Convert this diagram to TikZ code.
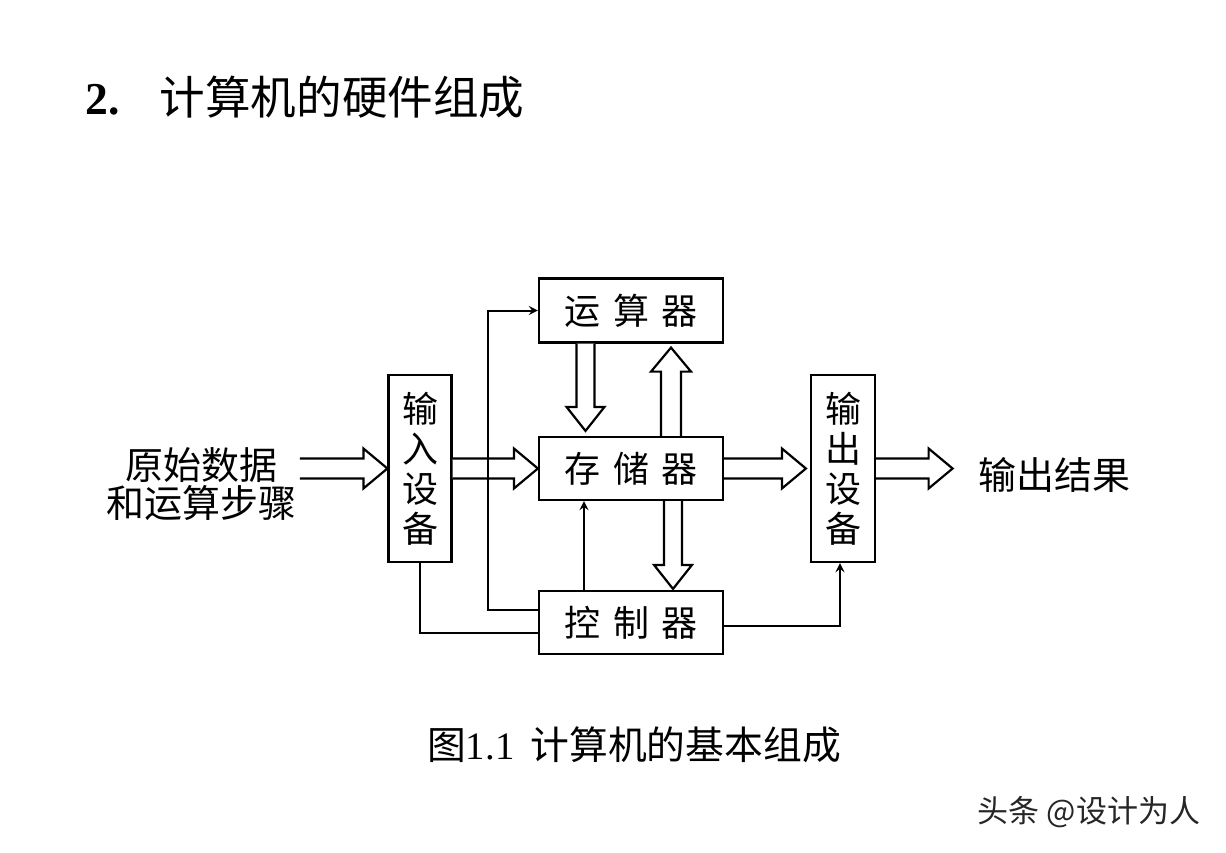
\documentclass[tikz,border=0pt]{standalone}
\usepackage{fontspec}
\setmainfont{Liberation Serif}
\newfontfamily\cjk{Noto Sans CJK SC}
\usetikzlibrary{calc,positioning}

% hollow wide arrows
\newcommand{\fatright}[2]{\draw[fat] let \p1=#1, \p2=#2 in
    (\x1,\y1+5pt) -- (\x2-12pt,\y1+5pt) -- (\x2-12pt,\y1+10pt) -- (\x2,\y1)
    -- (\x2-12pt,\y1-10pt) -- (\x2-12pt,\y1-5pt) -- (\x1,\y1-5pt);}
\newcommand{\fatdown}[2]{\draw[fat] let \p1=#1, \p2=#2 in
    (\x1-4.5pt,\y1) -- (\x1-4.5pt,\y2+12pt) -- (\x1-9.5pt,\y2+12pt) -- (\x1,\y2)
    -- (\x1+9.5pt,\y2+12pt) -- (\x1+4.5pt,\y2+12pt) -- (\x1+4.5pt,\y1);}
\newcommand{\fatup}[2]{\draw[fat] let \p1=#1, \p2=#2 in
    (\x1-5pt,\y1) -- (\x1-5pt,\y2-12pt) -- (\x1-10pt,\y2-12pt) -- (\x1,\y2)
    -- (\x1+10pt,\y2-12pt) -- (\x1+5pt,\y2-12pt) -- (\x1+5pt,\y1);}

\begin{document}
\begin{tikzpicture}
    [x=0.5pt, y=-0.5pt, >=stealth, on grid,
     unit/.style={draw, line width=1.1pt, inner sep=0pt, minimum width=92pt,
                  minimum height=31.5pt, font=\cjk\fontsize{18}{20}\selectfont},
     device/.style={unit, minimum width=31.5pt, minimum height=93.5pt, align=center},
     fat/.style={line width=1.1pt, fill=white, line join=miter},
     signal/.style={line width=1pt}]
\useasboundingbox (0,0) rectangle (1226,852);

\node[anchor=west, inner sep=0pt, font=\fontsize{22.8}{24}\selectfont] (title) at (85,97)
    {\textbf{2.}\hspace{20pt}{\cjk 计算机的硬件组成}};

\node[unit](mem) at (631,468.5){存\hspace{6.5pt}储\hspace{6.5pt}器};
\node[unit, minimum height=32pt](alu)[above=79pt of mem]{运\hspace{6.5pt}算\hspace{6.5pt}器};
\node[unit](ctl)[below=77pt of mem]{控\hspace{6.5pt}制\hspace{6.5pt}器};
\node[device](in)[left=105.5pt of mem]{输\\入\\设\\备};
\node[device, minimum width=32pt](out)[right=106pt of mem]{输\\出\\设\\备};

\node[align=center, inner sep=0pt, font=\cjk\fontsize{19}{19}\selectfont] (raw) at (201.5,484)
    {原始数据\\和运算步骤};
\node[inner sep=0pt, font=\cjk\fontsize{19}{20}\selectfont] (res) at (1054,475) {输出结果};

\node[font=\fontsize{19.4}{20}\selectfont] (caption) at (634,745)
    {{\cjk 图}1.1\hspace{8pt}{\cjk 计算机的基本组成}};
\node[font=\cjk\fontsize{15.5}{16}\selectfont, text=black!85] (mark) at (1089,812) {头条 @设计为人};

% data flow
\fatright{($(raw.east |- in.west)+(3,0)$)}{(in.west)}
\fatright{(in.east)}{(mem.west)}
\fatright{(mem.east)}{($(out.west)+(-4,0)$)}
\fatright{(out.east)}{($(res.west)+(-25,0)$)}
\fatdown{($(alu.south)+(-45.5,0)$)}{($(mem.north)+(-45.5,-5)$)}
\fatup{($(mem.north)+(40,0)$)}{($(alu.south)+(40,4)$)}
\fatdown{($(mem.south)+(42,0)$)}{($(ctl.north)+(42,-1)$)}

% control signals
\draw[signal,->] ($(ctl.west)+(0,-12.5)$) -| ($(alu.west)+(-50,0)$) -- (alu.west);
\draw[signal] ($(ctl.west)+(0,10.5)$) -| (in.south);
\draw[signal,->] ($(ctl.north)+(-47,0)$) -- ($(mem.south)+(-47,0)$);
\draw[signal,->] ($(ctl.east)+(0,3.5)$) -| ($(out.south)+(-3,0)$);
\end{tikzpicture}
\end{document}
